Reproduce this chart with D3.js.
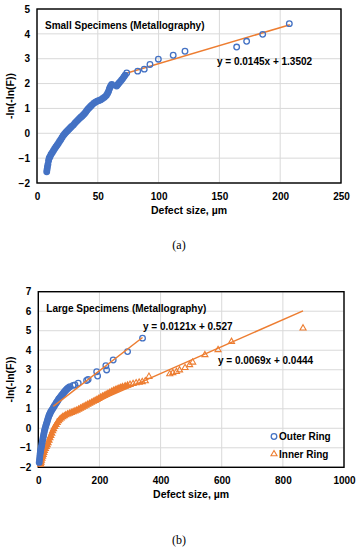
<!DOCTYPE html>
<html lang="en">
<head>
<meta charset="utf-8"/>
<script src="https://d3js.org/d3.v7.min.js"></script>
<style>
  body { margin: 0; background: #fff; }
  text { font-family: "Liberation Sans", Arial, sans-serif; font-weight: bold; fill: #000; }
  .grid line { stroke: #d9d9d9; stroke-width: 1; }
  .cap { font-family: "Liberation Serif", "DejaVu Serif", serif; font-weight: normal; font-size: 12px; }
</style>
</head>
<body>
<script>
// Panel (a): small specimens, [defect size µm, -ln(-ln(F))]
var smallDense = [
  [8,-1.55],[8.3,-1.45],[8.6,-1.35],[9,-1.25],[9.5,-1.1],[10,-1.0],[10.7,-0.94],[11.5,-0.85],
  [12.5,-0.78],[13.5,-0.7],[14.5,-0.62],[15.5,-0.55],[16.5,-0.48],[17.5,-0.41],[18.5,-0.33],
  [19.5,-0.26],[20.5,-0.18],[21.5,-0.1],[22.5,-0.04],[23.5,0.02],[24.5,0.07],[25.5,0.12],
  [26.5,0.17],[27.5,0.22],[28.5,0.27],[29.9,0.33],[31,0.4],[32,0.45],[33,0.5],[34,0.55],
  [35,0.6],[36,0.65],[37,0.69],[38,0.74],[39,0.79],[40,0.85],[41,0.92],[42,0.98],[43,1.03],
  [44,1.08],[45,1.13],[46.5,1.2],[48,1.25],[49.5,1.29],[51,1.32],[52.5,1.35],[54,1.4],
  [55.5,1.45],[57,1.52],[58,1.6],[58.8,1.68],[59.5,1.78],[60.2,1.86],[61,1.92],[61.5,1.96],
  [65.5,1.9],[66.5,1.96],[67.5,2.02],[68.5,2.08],[69.5,2.14],[70.5,2.2],[71.5,2.27],[72.5,2.34]
];
var smallTail = [
  [73.8,2.43],[82.8,2.5],[88.2,2.58],[92.9,2.77],[99.8,2.98],[112,3.14],[121.7,3.3],
  [164.2,3.47],[172.4,3.7],[185.6,3.98],[207.5,4.41]
];
var smallFit = { slope: 0.0145, intercept: 1.3502, from: 70, to: 208, label: "y = 0.0145x + 1.3502" };

// Panel (b): large specimens
var outerDense = [
  [3,-1.75],[4,-1.6],[5,-1.45],[6,-1.3],[7,-1.2],[8,-1.1],[9.5,-1.0],[11,-0.88],[12.5,-0.75],
  [14,-0.62],[15.5,-0.5],[17,-0.38],[18.5,-0.26],[20,-0.14],[22,-0.02],[24,0.1],[26,0.2],
  [28,0.3],[30,0.4],[32,0.5],[34,0.6],[36,0.68],[38,0.75],[40,0.82],[43,0.9],[46,0.97],
  [49,1.05],[52,1.13],[55,1.2],[58,1.28],[61,1.35],[64,1.42],[67,1.5],[70,1.56],[73,1.62],
  [76,1.68],[79,1.74],[82,1.8],[85,1.86],[88,1.91],[91,1.96],[94,2.01],[97,2.05]
];
var outerTail = [
  [100,2.09],[103.6,2.13],[114,2.2],[120,2.22],[130.7,2.31],[158,2.45],[163,2.5],[194,2.68],
  [191,2.9],[223.5,2.99],[221,3.21],[245,3.5],[292,3.93],[341,4.62]
];
var innerDense = [
  [8,-1.85],[9,-1.75],[10,-1.65],[12,-1.55],[14,-1.45],[16,-1.35],[18,-1.25],[20,-1.15],
  [23,-1.05],[26,-0.95],[29,-0.85],[32,-0.75],[35,-0.62],[38,-0.5],[41,-0.38],[44,-0.26],
  [47,-0.14],[50,-0.03],[54,0.08],[58,0.18],[62,0.28],[66,0.37],[70,0.45],[75,0.52],[80,0.58],
  [85,0.63],[90,0.68],[96,0.72],[102,0.76],[108,0.8],[114,0.84],[120,0.88],[126,0.92],
  [132,0.97],[138,1.02],[144,1.07],[150,1.12],[156,1.17],[162,1.22],[168,1.27],[174,1.32],
  [180,1.37],[186,1.42],[192,1.47],[198,1.52],[204,1.58],[210,1.63],[216,1.68],[222,1.73],
  [228,1.78],[234,1.83],[240,1.88],[246,1.93],[252,1.97],[258,2.01],[264,2.05],[270,2.09],
  [276,2.12],[284,2.16],[292,2.2]
];
var innerTail = [
  [300,2.24],[310,2.28],[320,2.32],[330,2.35],[340,2.38],[350,2.42],[362,2.65],[430,2.78],
  [440,2.84],[452,2.9],[462,2.98],[480,3.1],[495,3.25],[505,3.38],[545,3.76],[588,4.02],
  [632,4.44],[866,5.13]
];
var outerFit = { slope: 0.0121, intercept: 0.527, from: 49, to: 341, label: "y = 0.0121x + 0.527" };
var innerFit = { slope: 0.0069, intercept: 0.0444, from: 60, to: 866, label: "y = 0.0069x + 0.0444" };

var xTicksA = [0, 50, 100, 150, 200, 250];
var yTicksA = [-2, -1, 0, 1, 2, 3, 4, 5];
var xTicksB = [0, 200, 400, 600, 800, 1000];
var yTicksB = [-2, -1, 0, 1, 2, 3, 4, 5, 6, 7];

var BLUE = "#4472c4", ORANGE = "#ed7d31";

var svg = d3.select("body").append("svg").attr("width", 359).attr("height", 550);

function panel(opt) {
  var x = d3.scaleLinear().domain(opt.xd).range(opt.xr);
  var y = d3.scaleLinear().domain(opt.yd).range(opt.yr);
  var g = svg.append("g");

  // gridlines
  var grid = g.append("g").attr("class", "grid");
  grid.selectAll(".h").data(opt.yt).enter().append("line")
    .attr("x1", opt.xr[0]).attr("x2", opt.xr[1])
    .attr("y1", function(d) { return y(d); }).attr("y2", function(d) { return y(d); });
  grid.selectAll(".v").data(opt.xt).enter().append("line")
    .attr("y1", opt.yr[0]).attr("y2", opt.yr[1])
    .attr("x1", function(d) { return x(d); }).attr("x2", function(d) { return x(d); });

  // axes (labels only, no tick marks)
  var fmt = d3.format("d");
  var xa = g.append("g").attr("transform", "translate(0," + opt.yr[0] + ")")
    .call(d3.axisBottom(x).tickValues(opt.xt).tickFormat(fmt).tickSize(0).tickPadding(opt.xpad));
  var ya = g.append("g").attr("transform", "translate(" + opt.xr[0] + ",0)")
    .call(d3.axisLeft(y).tickValues(opt.yt).tickFormat(fmt).tickSize(0).tickPadding(opt.ypad));
  [xa, ya].forEach(function(a) {
    a.select(".domain").remove();
    a.selectAll("text").style("font-size", "10px").style("font-family", "'Liberation Sans', Arial, sans-serif").style("font-weight", "bold");
  });

  // frame
  g.append("rect")
    .attr("x", opt.xr[0]).attr("y", opt.yr[1])
    .attr("width", opt.xr[1] - opt.xr[0]).attr("height", opt.yr[0] - opt.yr[1])
    .attr("fill", "none").attr("stroke", "#000").attr("stroke-width", 1.4);

  g.append("text").attr("x", opt.xr[0] + 8).attr("y", opt.yr[1] + 20)
    .style("font-size", "10px").text(opt.title);

  g.append("text").attr("x", (opt.xr[0] + opt.xr[1]) / 2).attr("y", opt.yr[0] + 31)
    .attr("text-anchor", "middle").style("font-size", "10.5px").text("Defect size, \u00b5m");

  g.append("text").attr("transform", "translate(14," + ((opt.yr[0] + opt.yr[1]) / 2) + ") rotate(-90)")
    .attr("text-anchor", "middle").style("font-size", "10.5px").text("-ln(-ln(F))");

  return { g: g, x: x, y: y };
}

function circles(p, data, color, filled) {
  p.g.append("g").selectAll("circle").data(data).enter().append("circle")
    .attr("cx", function(d) { return p.x(d[0]); })
    .attr("cy", function(d) { return p.y(d[1]); })
    .attr("r", 2.8).attr("fill", filled ? color : "none")
    .attr("stroke", color).attr("stroke-width", 1.3);
}

var tri = d3.symbol().type(d3.symbolTriangle).size(16);
function triangles(p, data, color, filled) {
  p.g.append("g").selectAll("path").data(data).enter().append("path")
    .attr("d", tri)
    .attr("transform", function(d) { return "translate(" + p.x(d[0]) + "," + p.y(d[1]) + ")"; })
    .attr("fill", filled ? color : "none").attr("stroke", color).attr("stroke-width", 1.1);
}

function fitLine(p, f) {
  p.g.append("line")
    .attr("x1", p.x(f.from)).attr("y1", p.y(f.slope * f.from + f.intercept))
    .attr("x2", p.x(f.to)).attr("y2", p.y(f.slope * f.to + f.intercept))
    .attr("stroke", ORANGE).attr("stroke-width", 1.5);
}

// ---- panel (a)
var pa = panel({ xd: [0, 250], xr: [37, 341], yd: [-2, 5], yr: [183, 9],
  xt: xTicksA, yt: yTicksA, xpad: 10, ypad: 7, title: "Small Specimens (Metallography)" });
fitLine(pa, smallFit);
circles(pa, smallDense, BLUE, true);
circles(pa, smallTail, BLUE, false);
pa.g.append("text").attr("x", 217).attr("y", 65).style("font-size", "10px").text(smallFit.label);
svg.append("text").attr("class", "cap").attr("x", 179).attr("y", 249).attr("text-anchor", "middle").text("(a)");

// ---- panel (b)
var pb = panel({ xd: [0, 1000], xr: [38.3, 344], yd: [-2, 7], yr: [467.3, 291.7],
  xt: xTicksB, yt: yTicksB, xpad: 10, ypad: 7, title: "Large Specimens (Metallography)" });
triangles(pb, innerDense, ORANGE, true);
triangles(pb, innerTail, ORANGE, false);
circles(pb, outerDense, BLUE, true);
circles(pb, outerTail, BLUE, false);
fitLine(pb, outerFit);
fitLine(pb, innerFit);
pb.g.append("text").attr("x", 143).attr("y", 330).style("font-size", "10px").text(outerFit.label);
pb.g.append("text").attr("x", 218).attr("y", 364).style("font-size", "10px").text(innerFit.label);

// legend
var leg = pb.g.append("g");
leg.append("circle").attr("cx", 274).attr("cy", 436.5).attr("r", 2.8)
  .attr("fill", "none").attr("stroke", BLUE).attr("stroke-width", 1.3);
leg.append("text").attr("x", 279).attr("y", 440).style("font-size", "10px").text("Outer Ring");
leg.append("path").attr("d", tri)
  .attr("transform", "translate(274,454)").attr("fill", "none").attr("stroke", ORANGE).attr("stroke-width", 1.1);
leg.append("text").attr("x", 279).attr("y", 457.5).style("font-size", "10px").text("Inner Ring");

svg.append("text").attr("class", "cap").attr("x", 179).attr("y", 544).attr("text-anchor", "middle").text("(b)");
</script>
</body>
</html>
